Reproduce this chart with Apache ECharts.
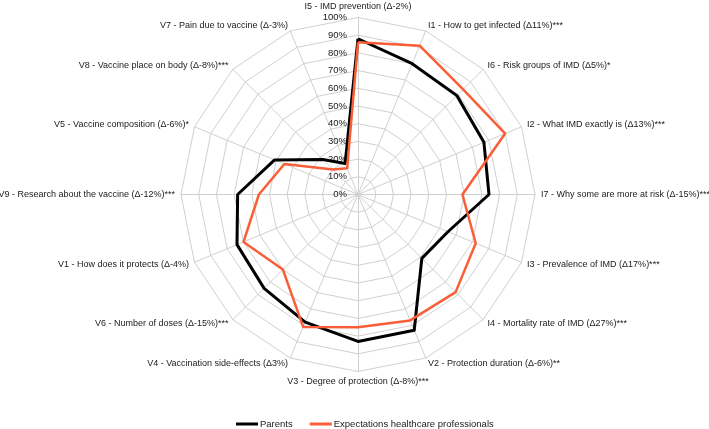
<!DOCTYPE html>
<html>
<head>
<meta charset="utf-8">
<script src="https://cdn.jsdelivr.net/npm/echarts@6/dist/echarts.min.js"></script>
<style>
html,body{margin:0;padding:0;background:#fff;}
#chart{width:709px;height:429px;}
</style>
</head>
<body>
<div id="chart"></div>
<script>
// Categories in clockwise order starting from the top
const categories = [
  "I5 - IMD prevention (Δ-2%)",
  "I1 - How to get infected (Δ11%)***",
  "I6 - Risk groups of IMD (Δ5%)*",
  "I2 - What IMD exactly is (Δ13%)***",
  "I7 - Why some are more at risk (Δ-15%)***",
  "I3 - Prevalence of IMD (Δ17%)***",
  "I4 - Mortality rate of IMD (Δ27%)***",
  "V2 - Protection duration (Δ-6%)**",
  "V3 - Degree of protection (Δ-8%)***",
  "V4 - Vaccination side-effects (Δ3%)",
  "V6 - Number of doses (Δ-15%)***",
  "V1 - How does it protects (Δ-4%)",
  "V9 - Research about the vaccine (Δ-12%)***",
  "V5 - Vaccine composition (Δ-6%)*",
  "V8 - Vaccine place on body (Δ-8%)***",
  "V7 - Pain due to vaccine (Δ-3%)"
];
const parents = [88, 80, 79, 77, 74, 55, 51, 83, 83, 78, 75, 74, 68, 51, 28, 19];
const professionals = [86, 91, 84, 90, 59, 72, 78, 77, 75, 81, 60, 70, 56, 45, 20, 16];
const seriesNames = ["Parents", "Expectations healthcare professionals"];
const tickLabels = ["0%","10%","20%","30%","40%","50%","60%","70%","80%","90%","100%"];

// ECharts radar places indicators counter-clockwise; reorder to get clockwise layout
function toCCW(arr) { return [arr[0]].concat(arr.slice(1).reverse()); }

const FONT = "'Liberation Sans', Arial, sans-serif";
const center = [358, 194.5];
const radius = 177;

const chart = echarts.init(document.getElementById('chart'), null, {renderer: 'canvas'});
chart.setOption({
  animation: false,
  backgroundColor: '#ffffff',
  textStyle: {fontFamily: FONT},
  legend: {
    top: 414,
    left: 231,
    itemWidth: 22,
    itemHeight: 3,
    itemGap: 17,
    icon: 'rect',
    textStyle: {fontSize: 9.5, color: '#1a1a1a', fontFamily: FONT, padding: [0, 0, 0, -3]},
    data: seriesNames
  },
  radar: {
    center: center,
    radius: radius,
    startAngle: 90,
    splitNumber: 10,
    shape: 'polygon',
    nameGap: 6,
    axisName: {color: '#1a1a1a', fontSize: 9, fontFamily: FONT},
    indicator: toCCW(categories).map(n => ({name: n, min: 0, max: 100})),
    axisLine: {lineStyle: {color: '#d0d0d0', width: 1}},
    splitLine: {lineStyle: {color: '#d0d0d0', width: 1}},
    splitArea: {show: false},
    axisTick: {show: false},
    axisLabel: {show: false}
  },
  polar: {center: center, radius: radius},
  angleAxis: {show: false, min: 0, max: 360, startAngle: 90},
  radiusAxis: {
    min: 0, max: 100, interval: 10,
    axisLine: {show: false},
    axisTick: {show: false},
    splitLine: {show: false},
    axisLabel: {
      show: true, color: '#1a1a1a', fontSize: 9.5, fontFamily: FONT, margin: 11,
      formatter: function (v) { return tickLabels[Math.round(v / 10)]; }
    }
  },
  series: [{
    type: 'radar',
    symbol: 'none',
    data: [
      {name: seriesNames[0], value: toCCW(parents), lineStyle: {color: '#000000', width: 3}, itemStyle: {color: '#000000'}},
      {name: seriesNames[1], value: toCCW(professionals), lineStyle: {color: '#f95e36', width: 2.5}, itemStyle: {color: '#f95e36'}}
    ]
  }]
});
</script>
</body>
</html>
